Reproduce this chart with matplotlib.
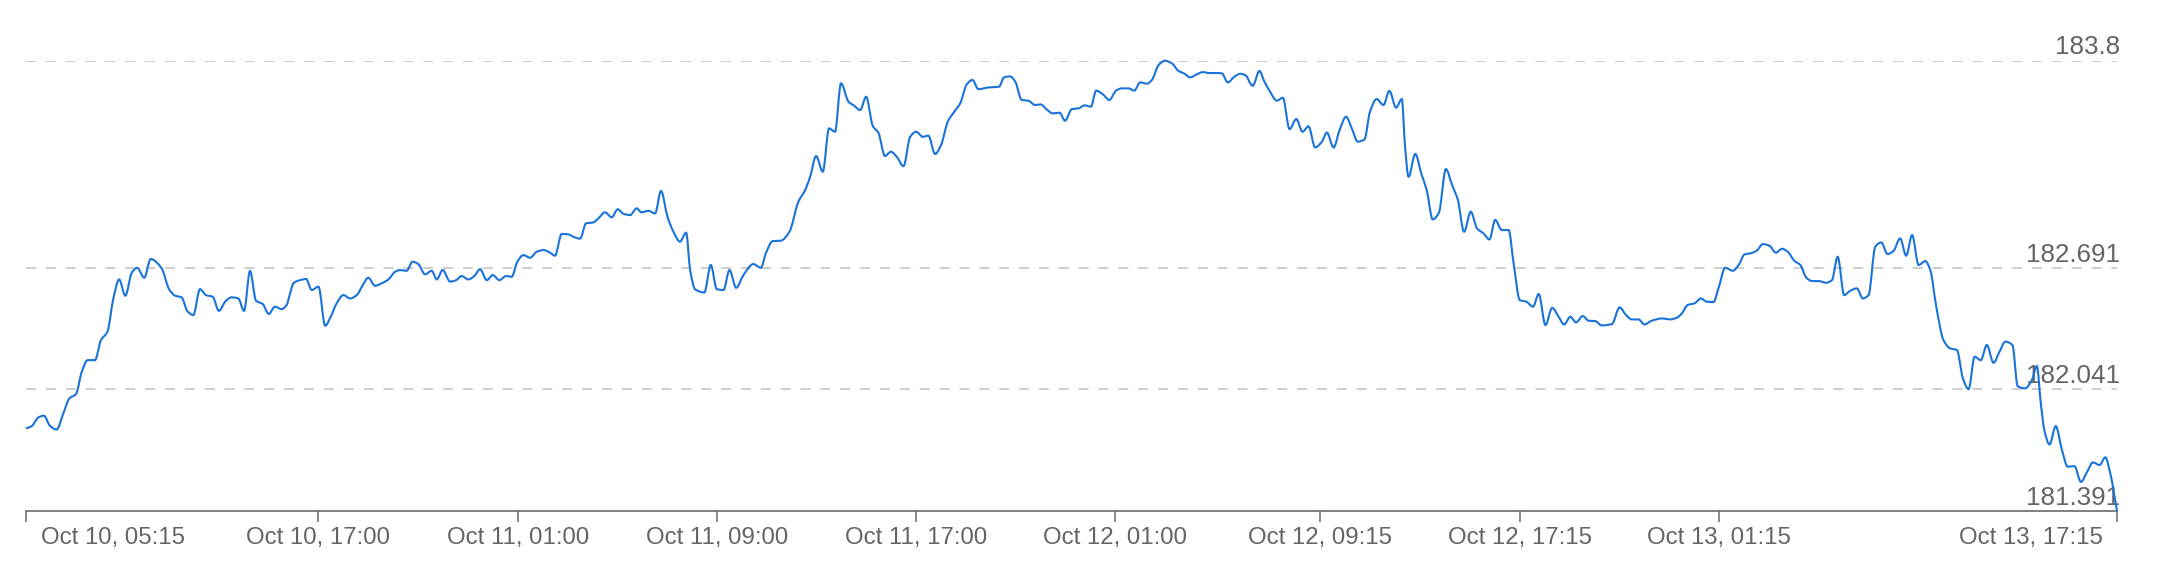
import matplotlib
matplotlib.use("Agg")
import matplotlib.pyplot as plt
import matplotlib.dates as mdates
import matplotlib.transforms as mtransforms
from matplotlib.path import Path
from matplotlib.patches import PathPatch
import numpy as np
import pandas as pd

plt.rcParams["font.family"] = ["Liberation Sans", "DejaVu Sans"]

# price series (hours after the first point, price)
start = pd.Timestamp("2024-10-10 05:15")
hours = [
    0.00, 0.23, 0.50, 0.72, 0.96, 1.23, 1.50, 1.74, 2.01, 2.24, 2.48, 2.77, 3.01, 3.27,
    3.51, 3.74, 3.99, 4.25, 4.47, 4.75, 5.01, 5.45, 5.75, 5.99, 6.25, 6.48, 6.72, 6.99,
    7.23, 7.50, 7.75, 8.02, 8.26, 8.53, 8.76, 9.00, 9.24, 9.51, 9.75, 10.00, 10.27, 10.47,
    10.61, 10.74, 11.01, 11.25, 11.48, 11.75, 12.02, 12.24, 12.48, 12.75, 13.02, 13.29,
    13.53, 13.75, 14.02, 14.29, 14.56, 14.83, 15.03, 15.29, 15.53, 15.76, 16.03, 16.30,
    16.50, 16.74, 17.04, 17.28, 17.50, 17.77, 18.01, 18.24, 18.51, 18.75, 19.02, 19.28,
    19.51, 19.74, 19.98, 20.25, 20.52, 20.79, 21.05, 21.25, 21.52, 21.79, 21.99, 22.26,
    22.50, 22.79, 22.99, 23.26, 23.53, 23.77, 24.00, 24.27, 24.53, 24.73, 25.00, 25.27,
    25.51, 25.77, 26.01, 26.27, 26.52, 26.68, 26.88, 27.25, 27.51, 27.75, 28.02, 28.26,
    28.53, 28.82, 29.22, 29.52, 29.73, 30.00, 30.32, 30.67, 31.03, 31.30, 31.50, 31.74,
    32.01, 32.26, 32.50, 32.74, 33.04, 33.27, 33.51, 33.75, 34.02, 34.24, 34.51, 34.74,
    34.98, 35.25, 35.52, 35.76, 36.03, 36.25, 36.52, 36.76, 37.03, 37.29, 37.53, 37.79,
    38.02, 38.26, 38.67, 39.09, 39.29, 39.53, 39.74, 40.00, 40.27, 40.54, 40.76, 41.03,
    41.25, 41.52, 41.74, 42.01, 42.28, 42.52, 42.78, 42.99, 43.26, 43.52, 43.79, 44.02,
    44.29, 44.52, 44.76, 45.03, 45.23, 45.50, 45.76, 46.03, 46.30, 46.52, 46.77, 47.03,
    47.28, 47.54, 47.81, 48.04, 48.28, 48.54, 48.78, 48.98, 49.28, 49.55, 49.75, 49.96,
    50.25, 50.49, 50.76, 51.03, 51.28, 51.52, 51.79, 52.06, 52.26, 52.53, 52.77, 53.03,
    53.26, 53.50, 53.77, 53.99, 54.26, 54.53, 54.77, 55.04, 55.27, 55.40, 55.54, 55.81,
    56.07, 56.27, 56.51, 56.76, 57.04, 57.29, 57.52, 57.77, 58.04, 58.29, 58.55, 58.79,
    59.02, 59.29, 59.56, 59.76, 60.01, 60.27, 60.54, 60.77, 61.04, 61.31, 61.57, 61.79,
    62.04, 62.27, 62.54, 62.77, 63.04, 63.30, 63.71, 64.02, 64.28, 64.51, 64.78, 65.02,
    65.31, 65.72, 66.05, 66.32, 66.52, 66.75, 67.03, 67.28, 67.52, 67.79, 67.99, 68.26,
    68.57, 68.80, 69.04, 69.27, 69.51, 69.78, 70.04, 70.30, 70.54, 70.77, 71.05, 71.28,
    71.52, 71.75, 72.01, 72.32, 72.55, 72.78, 73.04, 73.28, 73.55, 73.79, 74.02, 74.29,
    74.53, 74.78, 75.02, 75.29, 75.53, 75.77, 76.03, 76.30, 76.50, 76.74, 77.03, 77.30,
    77.57, 77.81, 78.04, 78.28, 78.53, 78.77, 79.04, 79.28, 79.51, 79.80, 80.01, 80.31,
    80.58, 80.78, 80.94, 81.08, 81.29, 81.54, 81.79, 82.02, 82.29, 82.55, 82.82, 83.03,
    83.30, 83.53, 83.73, 84.00,
]
price = [
    181.833, 181.845, 181.892, 181.901, 181.847, 181.827, 181.913, 181.993, 182.017, 182.136,
    182.198, 182.198, 182.305, 182.350, 182.528, 182.630, 182.543, 182.666, 182.692, 182.639,
    182.739, 182.689, 182.577, 182.543, 182.534, 182.461, 182.439, 182.578, 182.546, 182.537,
    182.462, 182.514, 182.534, 182.528, 182.462, 182.675, 182.516, 182.498, 182.445, 182.484,
    182.471, 182.493, 182.555, 182.609, 182.626, 182.632, 182.573, 182.591, 182.382, 182.430,
    182.502, 182.546, 182.528, 182.546, 182.600, 182.639, 182.596, 182.609, 182.630, 182.671,
    182.680, 182.676, 182.725, 182.712, 182.657, 182.676, 182.630, 182.680, 182.618, 182.626,
    182.648, 182.630, 182.648, 182.685, 182.626, 182.653, 182.626, 182.648, 182.644, 182.725,
    182.760, 182.746, 182.778, 182.787, 182.773, 182.757, 182.873, 182.871, 182.858, 182.848,
    182.930, 182.935, 182.956, 182.989, 182.962, 183.005, 182.981, 182.974, 183.010, 182.989,
    182.997, 182.983, 183.103, 182.965, 182.885, 182.832, 182.880, 182.680, 182.577, 182.560,
    182.707, 182.578, 182.573, 182.680, 182.585, 182.653, 182.712, 182.692, 182.773, 182.835,
    182.837, 182.885, 183.046, 183.108, 183.179, 183.290, 183.206, 183.438, 183.420, 183.679,
    183.581, 183.559, 183.536, 183.607, 183.450, 183.415, 183.290, 183.313, 183.286, 183.236,
    183.393, 183.420, 183.393, 183.399, 183.301, 183.349, 183.474, 183.527, 183.572, 183.673,
    183.697, 183.648, 183.657, 183.661, 183.711, 183.716, 183.688, 183.590, 183.586, 183.563,
    183.566, 183.536, 183.518, 183.522, 183.479, 183.541, 183.545, 183.561, 183.554, 183.640,
    183.620, 183.590, 183.640, 183.652, 183.652, 183.640, 183.684, 183.677, 183.697, 183.777,
    183.800, 183.786, 183.745, 183.732, 183.711, 183.727, 183.739, 183.734, 183.734, 183.732,
    183.684, 183.714, 183.730, 183.723, 183.666, 183.745, 183.688, 183.638, 183.586, 183.602,
    183.434, 183.488, 183.420, 183.449, 183.336, 183.367, 183.415, 183.336, 183.429, 183.500,
    183.438, 183.367, 183.379, 183.527, 183.595, 183.563, 183.638, 183.549, 183.595, 183.340,
    183.179, 183.301, 183.188, 183.108, 182.951, 182.987, 183.220, 183.135, 183.055, 182.885,
    182.992, 182.903, 182.876, 182.844, 182.948, 182.894, 182.894, 182.716, 182.519, 182.511,
    182.484, 182.552, 182.386, 182.478, 182.430, 182.389, 182.430, 182.400, 182.434, 182.409,
    182.407, 182.384, 182.391, 182.480, 182.439, 182.416, 182.416, 182.389, 182.409, 182.421,
    182.416, 182.425, 182.448, 182.493, 182.502, 182.528, 182.511, 182.509, 182.582, 182.692,
    182.676, 182.707, 182.764, 182.769, 182.782, 182.819, 182.810, 182.773, 182.794, 182.778,
    182.728, 182.707, 182.639, 182.621, 182.621, 182.612, 182.626, 182.751, 182.546, 182.569,
    182.582, 182.528, 182.546, 182.805, 182.828, 182.766, 182.782, 182.849, 182.757, 182.867,
    182.707, 182.728, 182.680, 182.484, 182.305, 182.261, 182.252, 182.100, 182.043, 182.216,
    182.198, 182.279, 182.184, 182.243, 182.297, 182.279, 182.059, 182.047, 182.091, 182.166,
    181.967, 181.824, 181.747, 181.845, 181.717, 181.628, 181.631, 181.547, 181.606, 181.651,
    181.637, 181.678, 181.592, 181.391,
]

y_ticks = [181.391, 182.041, 182.691, 183.8]
x_tick_labels = ["Oct 10, 05:15", "Oct 10, 17:00", "Oct 11, 01:00", "Oct 11, 09:00",
                 "Oct 11, 17:00", "Oct 12, 01:00", "Oct 12, 09:15", "Oct 12, 17:15",
                 "Oct 13, 01:15", "Oct 13, 17:15"]

times = start + pd.to_timedelta(hours, unit="h")
tick_times = [pd.to_datetime(f"{start.year} {s}", format="%Y %b %d, %H:%M") for s in x_tick_labels]

text_color = "#646464"
line_color = "#1a73d9"


def smooth_path(x, y):
    # monotone cubic (Fritsch-Carlson) curve through the points, as bezier segments
    x = np.asarray(x, float)
    y = np.asarray(y, float)
    h = np.diff(x)
    d = np.diff(y) / h
    m = np.zeros_like(y)
    m[0], m[-1] = d[0], d[-1]
    for i in range(1, len(x) - 1):
        if d[i - 1] * d[i] > 0:
            w1 = 2 * h[i] + h[i - 1]
            w2 = h[i] + 2 * h[i - 1]
            m[i] = (w1 + w2) / (w1 / d[i - 1] + w2 / d[i])
    verts = [(x[0], y[0])]
    codes = [Path.MOVETO]
    for i in range(len(x) - 1):
        verts += [(x[i] + h[i] / 3, y[i] + m[i] * h[i] / 3),
                  (x[i + 1] - h[i] / 3, y[i + 1] - m[i + 1] * h[i] / 3),
                  (x[i + 1], y[i + 1])]
        codes += [Path.CURVE4] * 3
    return Path(verts, codes)


fig = plt.figure(figsize=(21.6, 5.88), dpi=100)
ax = fig.add_axes([26 / 2160, 1 - 511 / 588, 2091 / 2160, 450.3 / 588])

xnum = mdates.date2num(times.to_pydatetime())
ax.add_patch(PathPatch(smooth_path(xnum, price), facecolor="none", edgecolor=line_color,
                       linewidth=1.5, clip_on=False, zorder=3))

ax.set_xlim(times[0], times[-1])
ax.set_ylim(min(price), max(price))
ax.xaxis_date()

# dashed grid lines for every tick except the bottom one (the axis line sits there)
for v in y_ticks[1:]:
    ax.axhline(v, color="#c9c9c9", linewidth=1.3, linestyle=(0, (5.5, 5.5)), zorder=1)

# value labels sit right-aligned above their grid lines, inside the plot
for v in y_ticks:
    ax.annotate(f"{v:g}", xy=(1, v), xycoords=ax.get_yaxis_transform(),
                xytext=(2.2, 4.6), textcoords="offset points",
                ha="right", va="baseline", fontsize=18.7, color=text_color, zorder=2)

ax.set_yticks([])
for side in ["top", "left", "right"]:
    ax.spines[side].set_visible(False)
ax.spines["bottom"].set_color("#6b6b6b")
ax.spines["bottom"].set_linewidth(1.2)

ax.set_xticks(tick_times)
ax.set_xticklabels(x_tick_labels)
ax.tick_params(axis="x", direction="out", length=7.9, width=1.1, color="#6b6b6b",
               pad=3.6, labelsize=17.3, labelcolor=text_color)

labels = ax.get_xticklabels()
labels[0].set_horizontalalignment("left")
labels[0].set_transform(labels[0].get_transform()
                        + mtransforms.ScaledTranslation(15 / 100, 0, fig.dpi_scale_trans))
labels[-1].set_horizontalalignment("right")
labels[-1].set_transform(labels[-1].get_transform()
                         + mtransforms.ScaledTranslation(-14 / 100, 0, fig.dpi_scale_trans))

fig.savefig("out.png", dpi=100, facecolor="white")
